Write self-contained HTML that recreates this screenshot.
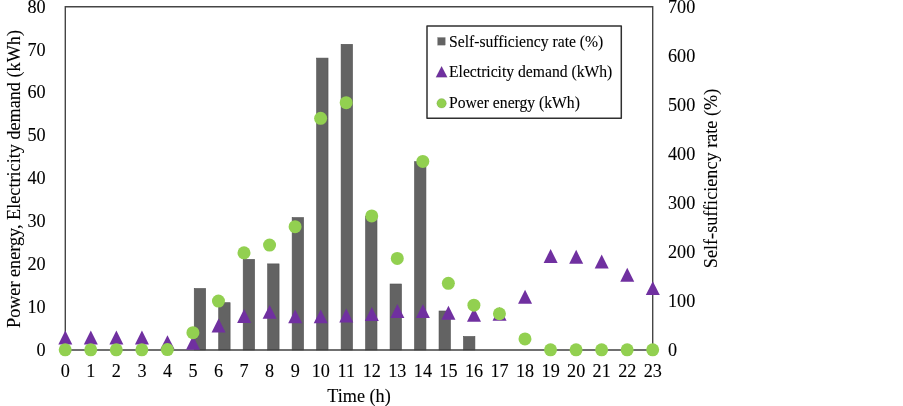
<!DOCTYPE html><html><head><meta charset="utf-8"><style>html,body{margin:0;padding:0;background:#fff}</style></head><body><svg width="903" height="406" viewBox="0 0 903 406" style="display:block;will-change:transform;transform:translateZ(0)">
<rect width="903" height="406" fill="#fff"/>
<rect x="194.24" y="288.50" width="11.4" height="61.50" fill="#636363" stroke="#505050" stroke-width="0.6"/>
<rect x="218.71" y="302.70" width="11.4" height="47.30" fill="#636363" stroke="#505050" stroke-width="0.6"/>
<rect x="243.19" y="259.40" width="11.4" height="90.60" fill="#636363" stroke="#505050" stroke-width="0.6"/>
<rect x="267.67" y="263.90" width="11.4" height="86.10" fill="#636363" stroke="#505050" stroke-width="0.6"/>
<rect x="292.15" y="217.60" width="11.4" height="132.40" fill="#636363" stroke="#505050" stroke-width="0.6"/>
<rect x="316.63" y="58.10" width="11.4" height="291.90" fill="#636363" stroke="#505050" stroke-width="0.6"/>
<rect x="341.11" y="44.30" width="11.4" height="305.70" fill="#636363" stroke="#505050" stroke-width="0.6"/>
<rect x="365.59" y="216.50" width="11.4" height="133.50" fill="#636363" stroke="#505050" stroke-width="0.6"/>
<rect x="390.07" y="284.00" width="11.4" height="66.00" fill="#636363" stroke="#505050" stroke-width="0.6"/>
<rect x="414.55" y="161.70" width="11.4" height="188.30" fill="#636363" stroke="#505050" stroke-width="0.6"/>
<rect x="439.03" y="311.00" width="11.4" height="39.00" fill="#636363" stroke="#505050" stroke-width="0.6"/>
<rect x="463.51" y="336.50" width="11.4" height="13.50" fill="#636363" stroke="#505050" stroke-width="0.6"/>
<path d="M65.3 350.7 V6 M64.6 6.7 H653.4 M652.7 6 V350.7" fill="none" stroke="#454545" stroke-width="1.4"/>
<path d="M64.6 349.95 H653.4" fill="none" stroke="#404040" stroke-width="1.6"/>
<path d="M65.30 330.49 L72.30 344.39 H58.30 Z" fill="#7030A0"/>
<path d="M90.84 330.49 L97.84 344.39 H83.84 Z" fill="#7030A0"/>
<path d="M116.39 330.49 L123.39 344.39 H109.39 Z" fill="#7030A0"/>
<path d="M141.93 330.49 L148.93 344.39 H134.93 Z" fill="#7030A0"/>
<path d="M167.47 335.21 L174.47 349.11 H160.47 Z" fill="#7030A0"/>
<path d="M193.02 335.85 L200.02 349.75 H186.02 Z" fill="#7030A0"/>
<path d="M218.56 318.48 L225.56 332.38 H211.56 Z" fill="#7030A0"/>
<path d="M244.10 309.04 L251.10 322.94 H237.10 Z" fill="#7030A0"/>
<path d="M269.65 304.92 L276.65 318.82 H262.65 Z" fill="#7030A0"/>
<path d="M295.19 309.47 L302.19 323.37 H288.19 Z" fill="#7030A0"/>
<path d="M320.73 309.47 L327.73 323.37 H313.73 Z" fill="#7030A0"/>
<path d="M346.28 308.61 L353.28 322.51 H339.28 Z" fill="#7030A0"/>
<path d="M371.82 307.11 L378.82 321.01 H364.82 Z" fill="#7030A0"/>
<path d="M397.37 304.10 L404.37 318.00 H390.37 Z" fill="#7030A0"/>
<path d="M422.91 304.10 L429.91 318.00 H415.91 Z" fill="#7030A0"/>
<path d="M448.45 305.82 L455.45 319.72 H441.45 Z" fill="#7030A0"/>
<path d="M474.00 307.75 L481.00 321.65 H467.00 Z" fill="#7030A0"/>
<path d="M499.54 306.89 L506.54 320.79 H492.54 Z" fill="#7030A0"/>
<path d="M525.08 289.73 L532.08 303.63 H518.08 Z" fill="#7030A0"/>
<path d="M550.63 248.98 L557.63 262.88 H543.63 Z" fill="#7030A0"/>
<path d="M576.17 249.84 L583.17 263.74 H569.17 Z" fill="#7030A0"/>
<path d="M601.71 254.56 L608.71 268.45 H594.71 Z" fill="#7030A0"/>
<path d="M627.26 267.85 L634.26 281.75 H620.26 Z" fill="#7030A0"/>
<path d="M652.80 281.15 L659.80 295.05 H645.80 Z" fill="#7030A0"/>
<circle cx="65.20" cy="349.80" r="6.5" fill="#92D050"/>
<circle cx="90.74" cy="349.80" r="6.5" fill="#92D050"/>
<circle cx="116.29" cy="349.80" r="6.5" fill="#92D050"/>
<circle cx="141.83" cy="349.80" r="6.5" fill="#92D050"/>
<circle cx="167.37" cy="349.59" r="6.5" fill="#92D050"/>
<circle cx="192.92" cy="332.64" r="6.5" fill="#92D050"/>
<circle cx="218.46" cy="301.11" r="6.5" fill="#92D050"/>
<circle cx="244.00" cy="252.85" r="6.5" fill="#92D050"/>
<circle cx="269.55" cy="245.12" r="6.5" fill="#92D050"/>
<circle cx="295.09" cy="226.68" r="6.5" fill="#92D050"/>
<circle cx="320.63" cy="118.31" r="6.5" fill="#92D050"/>
<circle cx="346.18" cy="102.70" r="6.5" fill="#92D050"/>
<circle cx="371.72" cy="215.95" r="6.5" fill="#92D050"/>
<circle cx="397.27" cy="258.42" r="6.5" fill="#92D050"/>
<circle cx="422.81" cy="161.47" r="6.5" fill="#92D050"/>
<circle cx="448.35" cy="283.31" r="6.5" fill="#92D050"/>
<circle cx="473.90" cy="305.18" r="6.5" fill="#92D050"/>
<circle cx="499.44" cy="313.76" r="6.5" fill="#92D050"/>
<circle cx="524.98" cy="338.90" r="6.5" fill="#92D050"/>
<circle cx="550.53" cy="349.80" r="6.5" fill="#92D050"/>
<circle cx="576.07" cy="349.80" r="6.5" fill="#92D050"/>
<circle cx="601.61" cy="349.80" r="6.5" fill="#92D050"/>
<circle cx="627.16" cy="349.80" r="6.5" fill="#92D050"/>
<circle cx="652.70" cy="349.80" r="6.5" fill="#92D050"/>
<g font-family="Liberation Serif, serif" font-size="18.2" fill="#000" stroke="#000" stroke-width="0.1">
<text x="65.30" y="377.1" text-anchor="middle">0</text>
<text x="90.84" y="377.1" text-anchor="middle">1</text>
<text x="116.39" y="377.1" text-anchor="middle">2</text>
<text x="141.93" y="377.1" text-anchor="middle">3</text>
<text x="167.47" y="377.1" text-anchor="middle">4</text>
<text x="193.02" y="377.1" text-anchor="middle">5</text>
<text x="218.56" y="377.1" text-anchor="middle">6</text>
<text x="244.10" y="377.1" text-anchor="middle">7</text>
<text x="269.65" y="377.1" text-anchor="middle">8</text>
<text x="295.19" y="377.1" text-anchor="middle">9</text>
<text x="320.73" y="377.1" text-anchor="middle">10</text>
<text x="346.28" y="377.1" text-anchor="middle">11</text>
<text x="371.82" y="377.1" text-anchor="middle">12</text>
<text x="397.37" y="377.1" text-anchor="middle">13</text>
<text x="422.91" y="377.1" text-anchor="middle">14</text>
<text x="448.45" y="377.1" text-anchor="middle">15</text>
<text x="474.00" y="377.1" text-anchor="middle">16</text>
<text x="499.54" y="377.1" text-anchor="middle">17</text>
<text x="525.08" y="377.1" text-anchor="middle">18</text>
<text x="550.63" y="377.1" text-anchor="middle">19</text>
<text x="576.17" y="377.1" text-anchor="middle">20</text>
<text x="601.71" y="377.1" text-anchor="middle">21</text>
<text x="627.26" y="377.1" text-anchor="middle">22</text>
<text x="652.80" y="377.1" text-anchor="middle">23</text>
<text x="45.6" y="355.80" text-anchor="end">0</text>
<text x="45.6" y="312.90" text-anchor="end">10</text>
<text x="45.6" y="270.00" text-anchor="end">20</text>
<text x="45.6" y="227.10" text-anchor="end">30</text>
<text x="45.6" y="184.20" text-anchor="end">40</text>
<text x="45.6" y="141.30" text-anchor="end">50</text>
<text x="45.6" y="98.40" text-anchor="end">60</text>
<text x="45.6" y="55.50" text-anchor="end">70</text>
<text x="45.6" y="12.60" text-anchor="end">80</text>
<text x="668" y="355.80">0</text>
<text x="668" y="306.77">100</text>
<text x="668" y="257.74">200</text>
<text x="668" y="208.71">300</text>
<text x="668" y="159.69">400</text>
<text x="668" y="110.66">500</text>
<text x="668" y="61.63">600</text>
<text x="668" y="12.60">700</text>
<text x="359" y="402.1" font-size="18.2" text-anchor="middle">Time (h)</text>
<text transform="translate(19.7,179) rotate(-90)" font-size="18.2" text-anchor="middle">Power energy, Electricity demand (kWh)</text>
<text transform="translate(716.7,178.5) rotate(-90)" font-size="18.2" text-anchor="middle">Self-sufficiency rate (%)</text>
</g>
<rect x="427" y="26" width="194.3" height="92.3" fill="#fff" stroke="#303030" stroke-width="1.5" stroke-linejoin="round"/>
<g font-family="Liberation Serif, serif" font-size="15.65" fill="#000" stroke="#000" stroke-width="0.1">
<rect x="437.6" y="37.5" width="7.7" height="7.7" fill="#636363"/>
<text x="449" y="46.8">Self-sufficiency rate (%)</text>
<path d="M441.6 66.3 L447.3 77.3 H435.9 Z" fill="#7030A0"/>
<text x="449" y="77.2">Electricity demand (kWh)</text>
<circle cx="441.6" cy="103.3" r="4.8" fill="#92D050"/>
<text x="449" y="107.5">Power energy (kWh)</text>
</g>
</svg></body></html>
